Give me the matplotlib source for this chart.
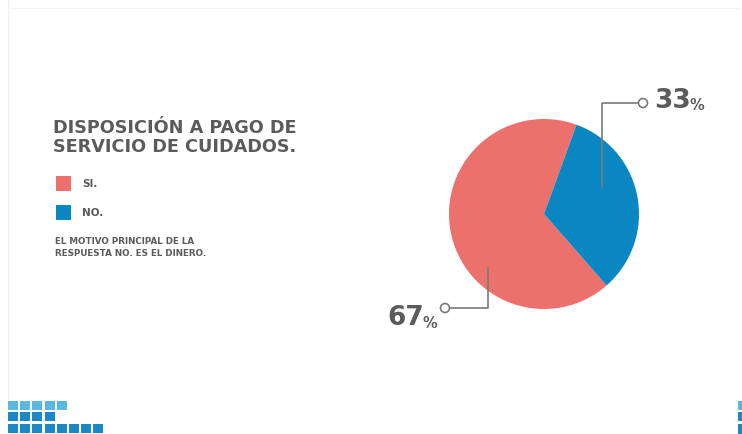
import matplotlib
matplotlib.use("Agg")
import matplotlib.pyplot as plt
from matplotlib.patches import Rectangle, Circle

categories = ["SI.", "NO."]
values = [67, 33]
colors = ["#ec706b", "#0a87c1"]
title_lines = ["DISPOSICIÓN A PAGO DE", "SERVICIO DE CUIDADOS."]
note_lines = ["EL MOTIVO PRINCIPAL DE LA", "RESPUESTA NO. ES EL DINERO."]

W, H = 742, 434
fig = plt.figure(figsize=(W / 100, H / 100), dpi=100)
fig.patch.set_facecolor("white")

# pie
cx, cy, r = 544, 214, 95
pax = fig.add_axes([(cx - r) / W, 1 - (cy + r) / H, 2 * r / W, 2 * r / H])
pax.pie(values, colors=colors, startangle=70, counterclock=True,
        wedgeprops=dict(linewidth=0))
pax.set_xlim(-1, 1)
pax.set_ylim(-1, 1)
pax.set_aspect("equal")
pax.axis("off")
pax.set_zorder(1)

# overlay axes in pixel coordinates
ov = fig.add_axes([0, 0, 1, 1])
ov.set_xlim(0, W)
ov.set_ylim(H, 0)
ov.axis("off")
ov.set_zorder(2)

gray = "#5b5b5b"
font = "DejaVu Sans"

# faint slide frame
ov.plot([8, 8], [0, 400], color="#eeeeee", lw=0.8)
ov.plot([8, 738], [8, 8], color="#f2f2f2", lw=0.8)

# title
ov.text(53, 128, title_lines[0], fontsize=12.7, fontweight="bold", color=gray,
        family=font, va="center", ha="left")
ov.text(53, 147, title_lines[1], fontsize=12.7, fontweight="bold", color=gray,
        family=font, va="center", ha="left")

# legend
for i, (lab, c) in enumerate(zip(categories, colors)):
    y0 = 176 + i * 29
    ov.add_patch(Rectangle((56, y0), 15, 15, color=c, lw=0))
    ov.text(82, y0 + 8, lab, fontsize=7.5, fontweight="bold", color=gray,
            family=font, va="center", ha="left")

ov.text(55, 241, note_lines[0], fontsize=6.3, fontweight="bold", color=gray,
        family=font, va="center", ha="left")
ov.text(55, 253, note_lines[1], fontsize=6.3, fontweight="bold", color=gray,
        family=font, va="center", ha="left")

# leader lines
lc = "#7a7a7a"
ov.plot([602, 602, 638.5], [187, 103, 103], color=lc, lw=1.2, zorder=5)
ov.add_patch(Circle((643, 103), 4.5, fill=True, facecolor="white", edgecolor=lc, lw=1.2, zorder=6))
ov.plot([488, 488, 449.5], [268, 308, 308], color=lc, lw=1.2, zorder=5)
ov.add_patch(Circle((445, 308), 4.5, fill=True, facecolor="white", edgecolor=lc, lw=1.2, zorder=6))

# percentage labels
fig.canvas.draw()
renderer = fig.canvas.get_renderer()
inv = ov.transData.inverted()


def pct_label(x, y, v):
    t = ov.text(x, y, f"{v}", fontsize=19, fontweight="bold", color=gray,
                family=font, va="center", ha="left")
    bb = t.get_window_extent(renderer=renderer)
    xr = inv.transform((bb.x1, bb.y0))[0]
    ov.text(xr - 1, y + 5, "%", fontsize=10.5, fontweight="bold", color=gray,
            family=font, va="center", ha="left")


pct_label(654, 101, values[1])
pct_label(387, 318, values[0])

# decorative squares bottom-left
rows = [(401, 5, "#5ab7e0"), (412, 4, "#1a88c4"), (424, 8, "#1a88c4")]
for y0, n, c in rows:
    for k in range(n):
        ov.add_patch(Rectangle((8 + k * 12.2, y0), 10, 9, color=c, lw=0))
# right edge bits
ov.add_patch(Rectangle((738, 401), 4, 9, color="#5ab7e0", lw=0))
ov.add_patch(Rectangle((738, 412), 4, 9, color="#1a88c4", lw=0))
ov.add_patch(Rectangle((738, 424), 4, 10, color="#1a88c4", lw=0))

fig.savefig("out.png", dpi=100, facecolor="white")
